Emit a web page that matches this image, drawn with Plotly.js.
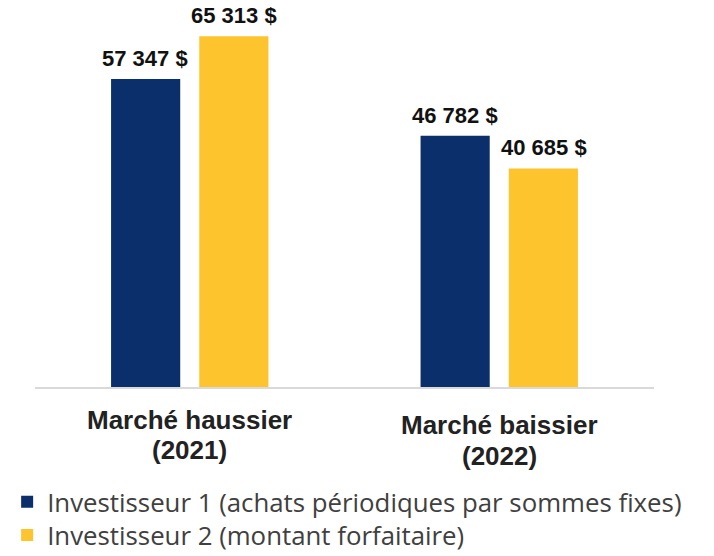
<!DOCTYPE html>
<html>
<head>
<meta charset="utf-8">
<script src="https://cdn.plot.ly/plotly-3.0.1.min.js"></script>
<style>html,body{margin:0;padding:0;background:#fff;}#chart{width:714px;height:556px;}</style>
</head>
<body>
<div id="chart"></div>
<script>
const categories = ["Marché haussier<br>(2021)", "Marché baissier<br>(2022)"];
const seriesNames = ["Investisseur 1 (achats périodiques par sommes fixes)", "Investisseur 2 (montant forfaitaire)"];
const investor1 = [57347, 46782];
const investor2 = [65313, 40685];
const colors = ["#0a2f6b", "#fdc42d"];

function fmt(v) { return String(v).replace(/\B(?=(\d{3})+(?!\d))/g, " ") + " $"; }

const legendIds = ["legend", "legend2"];
const traces = [investor1, investor2].map((vals, i) => ({
  type: "bar",
  name: seriesNames[i],
  x: categories,
  y: vals,
  marker: { color: colors[i] },
  legend: legendIds[i],
  hoverinfo: "none"
}));

const annotations = [];
[investor1, investor2].forEach((vals, i) => {
  vals.forEach((v, j) => {
    annotations.push({
      xref: "x", yref: "y", x: categories[j], y: v,
      xshift: i === 0 ? -44.5 : 44.5, yshift: 6,
      yanchor: "bottom", showarrow: false,
      text: fmt(v),
      font: { family: "Liberation Sans, Arial, sans-serif", size: 22, color: "#111111", weight: "bold" }
    });
  });
});
const labelShifts = [[-33, -63], [-38, -69]];
categories.forEach((c, j) => {
  c.split("<br>").forEach((line, k) => {
    annotations.push({
      xref: "x", yref: "paper", x: c, y: 0, yanchor: "middle",
      yshift: labelShifts[j][k], showarrow: false,
      text: "<b>" + line + "</b>",
      font: { family: "Liberation Sans, Arial, sans-serif", size: 26, color: "#222222" }
    });
  });
});

const legendFont = { family: "Open Sans, sans-serif", size: 25.8, color: "#404040" };
const layout = {
  width: 714, height: 556,
  margin: { l: 35, r: 60, t: 11, b: 169, autoexpand: false },
  paper_bgcolor: "#ffffff", plot_bgcolor: "#ffffff",
  barmode: "group", bargap: 0.43, bargroupgap: 0.216,
  showlegend: true,
  legend: {
    orientation: "v", x: -0.045, xanchor: "left", y: -0.306, yanchor: "middle",
    font: legendFont, itemwidth: 30, bgcolor: "rgba(0,0,0,0)"
  },
  legend2: {
    orientation: "v", x: -0.045, xanchor: "left", y: -0.394, yanchor: "middle",
    font: legendFont, itemwidth: 30, bgcolor: "rgba(0,0,0,0)"
  },
  xaxis: {
    type: "category", showticklabels: false, showgrid: false, zeroline: false,
    showline: true, linecolor: "#d9d9d9", linewidth: 2, ticks: ""
  },
  yaxis: { range: [0, 70000], visible: false, showgrid: false, zeroline: false },
  annotations: annotations
};

Plotly.newPlot("chart", traces, layout, { displayModeBar: false, staticPlot: true });
</script>
</body>
</html>
